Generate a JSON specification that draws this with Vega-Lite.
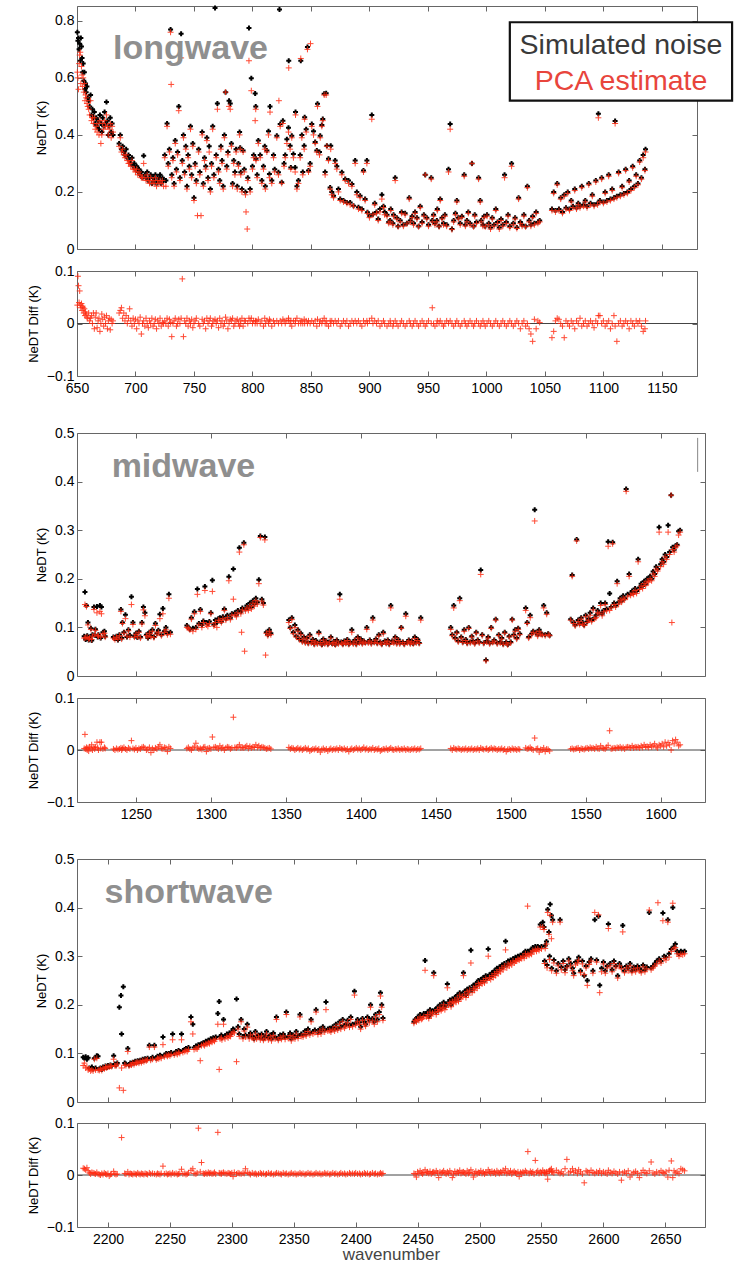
{
"$schema":"https://vega.github.io/schema/vega-lite/v6.json",
"background":"white",
"padding":{"left":26,"top":4,"right":5,"bottom":0},
"config":{"font":"Liberation Sans","view":{"stroke":"#666","strokeWidth":1},
"axis":{"grid":false,"domain":false,"tickSize":-5,"tickColor":"#666","tickWidth":1,"labelFont":"Liberation Sans","labelFontSize":14,"labelColor":"#000","labelPadding":8,"labelFlush":false,"labelOverlap":false,"titleFont":"Liberation Sans","titleFontSize":13,"titleFontWeight":"normal","titleColor":"#000","titlePadding":6}},
"datasets":{
"lw":[
{"w":650.3,"s":0.76,"p":0.62,"d":0.035},{"w":650.8,"s":0.73,"p":0.6,"d":0.09},{"w":651.3,"s":0.74,"p":0.56,"d":0.072},{"w":651.8,"s":0.7,"p":0.65,"d":0.04},{"w":652.3,"s":0.72,"p":0.68,"d":0.062},{"w":652.8,"s":0.66,"p":0.69,"d":0.035},{"w":653.3,"s":0.74,"p":0.58,"d":0.03},{"w":653.8,"s":0.71,"p":0.64,"d":0.038},{"w":654.3,"s":0.67,"p":0.61,"d":0.025},{"w":654.8,"s":0.62,"p":0.57,"d":0.033},{"w":655.3,"s":0.65,"p":0.6,"d":0.03},{"w":655.8,"s":0.59,"p":0.55,"d":0.02},{"w":656.3,"s":0.62,"p":0.58,"d":0.028},{"w":656.8,"s":0.56,"p":0.52,"d":0.015},{"w":657.3,"s":0.58,"p":0.54,"d":0.022},{"w":657.8,"s":0.55,"p":0.53,"d":0.018},{"w":658.5,"s":0.57,"p":0.51,"d":0.012},{"w":659.2,"s":0.53,"p":0.5,"d":0.01},{"w":660,"s":0.52,"p":0.49,"d":0.02},{"w":660.8,"s":0.5,"p":0.47,"d":0.005},{"w":661.6,"s":0.54,"p":0.52,"d":0.01},{"w":662.4,"s":0.47,"p":0.45,"d":0.015},{"w":663.2,"s":0.49,"p":0.46,"d":0},{"w":664,"s":0.46,"p":0.44,"d":0.02},{"w":664.8,"s":0.48,"p":0.46,"d":-0.01},{"w":665.6,"s":0.44,"p":0.42,"d":0.012},{"w":666.4,"s":0.46,"p":0.43,"d":0.02},{"w":667.2,"s":0.43,"p":0.41,"d":-0.008},{"w":668,"s":0.45,"p":0.44,"d":0.005},{"w":668.8,"s":0.42,"p":0.4,"d":0.01},{"w":669.6,"s":0.47,"p":0.45,"d":-0.015},{"w":670.4,"s":0.44,"p":0.37,"d":0},{"w":671.2,"s":0.41,"p":0.4,"d":0.018},{"w":672,"s":0.46,"p":0.44,"d":0.008},{"w":672.8,"s":0.43,"p":0.42,"d":-0.005},{"w":673.6,"s":0.48,"p":0.45,"d":0.012},{"w":674.4,"s":0.44,"p":0.43,"d":0},{"w":675.2,"s":0.515,"p":0.47,"d":0.015},{"w":676,"s":0.45,"p":0.43,"d":-0.01},{"w":676.8,"s":0.4,"p":0.4,"d":0.005},{"w":677.6,"s":0.43,"p":0.42,"d":0.01},{"w":678.4,"s":0.46,"p":0.44,"d":-0.012},{"w":679.2,"s":0.41,"p":0.39,"d":0.008},{"w":680,"s":0.44,"p":0.43,"d":0},{"w":680.8,"s":0.4,"p":0.41,"d":0.005},
{"w":686,"s":0.37,"p":0.36,"d":0.02},{"w":687,"s":0.4,"p":0.39,"d":0.025},{"w":688,"s":0.35,"p":0.34,"d":0.03},{"w":689,"s":0.36,"p":0.35,"d":0.01},{"w":690,"s":0.34,"p":0.33,"d":0.02},{"w":691,"s":0.33,"p":0.32,"d":0.005},{"w":692,"s":0.35,"p":0.33,"d":0.015},{"w":693,"s":0.32,"p":0.31,"d":0},{"w":694,"s":0.33,"p":0.3,"d":0.01},{"w":695,"s":0.31,"p":0.3,"d":0.028},{"w":696,"s":0.3,"p":0.29,"d":0.005},{"w":697,"s":0.32,"p":0.31,"d":-0.005},{"w":698,"s":0.29,"p":0.28,"d":0.01},{"w":699,"s":0.3,"p":0.28,"d":0},{"w":700,"s":0.28,"p":0.27,"d":0.008},{"w":701,"s":0.29,"p":0.28,"d":-0.01},{"w":702,"s":0.27,"p":0.26,"d":0.005},{"w":703,"s":0.28,"p":0.27,"d":0},{"w":704,"s":0.26,"p":0.26,"d":0.012},{"w":705,"s":0.27,"p":0.25,"d":-0.02},{"w":706,"s":0.25,"p":0.25,"d":0},{"w":707,"s":0.327,"p":0.3,"d":0.005},{"w":708,"s":0.26,"p":0.25,"d":-0.005},{"w":709,"s":0.25,"p":0.24,"d":0.01},{"w":710,"s":0.27,"p":0.26,"d":0},{"w":711,"s":0.24,"p":0.24,"d":-0.008},{"w":712,"s":0.25,"p":0.23,"d":0.005},{"w":713,"s":0.26,"p":0.25,"d":0},{"w":714,"s":0.23,"p":0.23,"d":0.01},{"w":715,"s":0.25,"p":0.24,"d":-0.005},{"w":716,"s":0.24,"p":0.23,"d":0},{"w":717,"s":0.26,"p":0.25,"d":0.008},{"w":718,"s":0.23,"p":0.22,"d":-0.01},{"w":719,"s":0.25,"p":0.24,"d":0.005},{"w":720,"s":0.24,"p":0.23,"d":0},{"w":721,"s":0.26,"p":0.24,"d":0.01},{"w":722,"s":0.23,"p":0.23,"d":-0.005},{"w":723,"s":0.25,"p":0.24,"d":0.002},{"w":724,"s":0.24,"p":0.22,"d":0},
{"w":725,"s":0.33,"p":0.32,"d":0.005},{"w":726,"s":0.24,"p":0.22,"d":0},{"w":727,"s":0.44,"p":0.43,"d":0.01},{"w":728,"s":0.3,"p":0.29,"d":-0.005},{"w":729,"s":0.35,"p":0.34,"d":0.008},{"w":730,"s":0.77,"p":0.76,"d":0.002},{"w":730.5,"s":null,"p":0.577,"d":null},{"w":731,"s":0.26,"p":0.25,"d":-0.025},{"w":732,"s":0.32,"p":0.31,"d":0},{"w":733,"s":0.23,"p":0.22,"d":0.005},{"w":734,"s":0.38,"p":0.37,"d":0.01},{"w":735,"s":0.28,"p":0.27,"d":-0.005},{"w":736,"s":0.34,"p":0.33,"d":0},{"w":737,"s":0.5,"p":0.485,"d":0.008},{"w":738,"s":0.25,"p":0.24,"d":0},{"w":739,"s":0.755,"p":0.67,"d":0.01},{"w":740,"s":0.31,"p":0.3,"d":0.085},{"w":741,"s":0.4,"p":0.39,"d":-0.025},{"w":742,"s":0.27,"p":0.26,"d":0.005},{"w":743,"s":0.36,"p":0.35,"d":0},{"w":744,"s":0.22,"p":0.21,"d":0.01},{"w":745,"s":0.33,"p":0.32,"d":-0.005},{"w":746,"s":0.29,"p":0.28,"d":0.005},{"w":747,"s":0.43,"p":0.42,"d":0},{"w":748,"s":0.26,"p":0.25,"d":0.008},{"w":749,"s":0.37,"p":0.36,"d":-0.008},{"w":750,"s":0.18,"p":0.17,"d":0},{"w":751,"s":0.3,"p":0.29,"d":0.005},{"w":752,"s":0.24,"p":0.23,"d":0.01},{"w":753,"s":null,"p":0.117,"d":null},{"w":754,"s":0.35,"p":0.34,"d":0},{"w":755,"s":0.27,"p":0.26,"d":-0.005},{"w":756,"s":null,"p":0.117,"d":null},{"w":757,"s":0.41,"p":0.4,"d":0.008},{"w":758,"s":0.23,"p":0.22,"d":0},{"w":759,"s":0.32,"p":0.31,"d":0.005},{"w":760,"s":0.29,"p":0.28,"d":-0.01},{"w":761,"s":0.39,"p":0.38,"d":0.01},{"w":762,"s":0.25,"p":0.24,"d":0},{"w":763,"s":0.36,"p":0.34,"d":0.005},{"w":764,"s":0.21,"p":0.2,"d":0.01},{"w":765,"s":0.3,"p":0.29,"d":-0.005},{"w":766,"s":0.43,"p":0.42,"d":0},{"w":767,"s":0.26,"p":0.25,"d":0.005},{"w":768,"s":0.845,"p":null,"d":0.008},{"w":769,"s":0.33,"p":0.32,"d":0},{"w":770,"s":0.51,"p":0.49,"d":0.005},{"w":771,"s":0.28,"p":0.27,"d":-0.008},{"w":772,"s":0.24,"p":0.23,"d":0.01},{"w":773,"s":0.36,"p":0.35,"d":0},{"w":774,"s":0.31,"p":0.3,"d":0.005},{"w":775,"s":0.22,"p":0.21,"d":-0.005},{"w":776,"s":0.4,"p":0.39,"d":0},{"w":777,"s":0.55,"p":0.55,"d":0.012},{"w":778,"s":0.29,"p":0.28,"d":0.005},{"w":779,"s":0.34,"p":0.33,"d":-0.01},{"w":780,"s":0.52,"p":0.5,"d":0},{"w":781,"s":0.51,"p":0.49,"d":0.008},{"w":782,"s":0.37,"p":0.36,"d":0.005},{"w":783,"s":0.23,"p":0.22,"d":0.01},{"w":784,"s":0.31,"p":0.3,"d":-0.005},{"w":785,"s":0.27,"p":0.26,"d":0},{"w":786,"s":0.35,"p":0.34,"d":0.005},{"w":787,"s":0.22,"p":0.21,"d":0.008},{"w":788,"s":0.3,"p":0.29,"d":0},{"w":789,"s":0.41,"p":0.4,"d":-0.005},{"w":789.5,"s":0.355,"p":0.35,"d":0.005},{"w":790,"s":0.269,"p":0.26,"d":0},{"w":791,"s":0.21,"p":0.2,"d":0.01},{"w":792,"s":0.345,"p":0.34,"d":-0.005},{"w":793,"s":0.28,"p":0.27,"d":0.005},{"w":794,"s":0.2,"p":0.19,"d":0.005},{"w":794.5,"s":null,"p":0.13,"d":null},{"w":795.5,"s":null,"p":0.07,"d":null},{"w":796,"s":0.25,"p":0.24,"d":0},{"w":797,"s":0.775,"p":0.66,"d":0.01},{"w":798,"s":0.21,"p":0.2,"d":0.005},{"w":799,"s":0.599,"p":0.555,"d":0.01},{"w":800,"s":0.29,"p":0.28,"d":0},{"w":801,"s":0.33,"p":0.32,"d":0.005},{"w":802.3,"s":0.545,"p":0.45,"d":0},{"w":802.8,"s":0.5,"p":0.49,"d":0.005},{"w":803,"s":0.316,"p":0.31,"d":0.005},{"w":804,"s":0.26,"p":0.25,"d":0},{"w":805,"s":0.38,"p":0.37,"d":0.008},{"w":806.6,"s":0.33,"p":0.32,"d":0},{"w":808,"s":0.24,"p":0.23,"d":0.005},{"w":809.4,"s":0.29,"p":0.28,"d":-0.005},{"w":810.5,"s":0.36,"p":0.35,"d":0.01},{"w":811,"s":0.22,"p":0.21,"d":0},{"w":812.3,"s":0.345,"p":0.34,"d":0.005},{"w":813.7,"s":0.413,"p":0.4,"d":0},{"w":814.5,"s":0.263,"p":0.25,"d":0.008},{"w":815,"s":0.5,"p":0.48,"d":0.005},{"w":816.5,"s":0.24,"p":0.23,"d":-0.005},{"w":818,"s":0.33,"p":0.32,"d":0.005},{"w":819,"s":0.28,"p":0.27,"d":0},{"w":820.8,"s":0.397,"p":0.39,"d":0.005},{"w":822.2,"s":0.269,"p":0.26,"d":0},{"w":822.6,"s":null,"p":0.52,"d":null},{"w":823.1,"s":0.84,"p":null,"d":null},{"w":823.7,"s":0.438,"p":0.43,"d":0.005},{"w":825,"s":0.234,"p":0.23,"d":0},{"w":826,"s":0.45,"p":0.44,"d":0.008},{"w":827,"s":0.3,"p":0.29,"d":0.005},{"w":828,"s":0.33,"p":0.32,"d":0},{"w":829.4,"s":0.385,"p":0.37,"d":0.005},{"w":830.8,"s":0.425,"p":0.41,"d":0.01},{"w":831,"s":0.66,"p":0.635,"d":0.006},{"w":832.2,"s":0.362,"p":0.35,"d":0},{"w":832.8,"s":0.286,"p":0.28,"d":0.005},{"w":833.6,"s":0.397,"p":0.39,"d":-0.005},{"w":835,"s":0.333,"p":0.32,"d":0.005},{"w":836.5,"s":0.286,"p":0.27,"d":0},{"w":836.8,"s":0.48,"p":0.47,"d":0.005},{"w":838,"s":0.22,"p":0.21,"d":0.01},{"w":839.3,"s":0.24,"p":0.23,"d":0},{"w":840.8,"s":0.33,"p":0.32,"d":0.005},{"w":841.3,"s":0.66,"p":0.668,"d":0},{"w":842.2,"s":0.4,"p":0.39,"d":0.005},{"w":843,"s":0.27,"p":0.26,"d":0},{"w":844.2,"s":0.362,"p":0.35,"d":0.008},{"w":844.6,"s":0.462,"p":0.455,"d":0},{"w":845.9,"s":0.42,"p":0.41,"d":0.005},{"w":847,"s":0.708,"p":0.7,"d":0},{"w":847.9,"s":0.275,"p":0.27,"d":0.005},{"w":849.3,"s":0.3,"p":0.29,"d":0},{"w":849.6,"s":null,"p":0.72,"d":null},{"w":850.7,"s":0.438,"p":0.43,"d":0.005},{"w":852.2,"s":0.413,"p":0.4,"d":0},{"w":853.6,"s":0.375,"p":0.37,"d":0.005},{"w":855,"s":0.345,"p":0.34,"d":-0.005},{"w":855.6,"s":0.509,"p":0.5,"d":0.008},{"w":857.3,"s":0.34,"p":0.33,"d":0},{"w":857.9,"s":0.397,"p":0.39,"d":0.005},{"w":859.3,"s":0.435,"p":0.43,"d":0},{"w":860.1,"s":0.456,"p":0.45,"d":0.005},{"w":861.3,"s":0.544,"p":0.54,"d":0.01},{"w":862.1,"s":0.27,"p":0.26,"d":0},{"w":863,"s":0.546,"p":0.54,"d":0.005},{"w":863.6,"s":0.362,"p":0.36,"d":0},{"w":865,"s":0.316,"p":0.31,"d":-0.005},{"w":866.4,"s":0.216,"p":0.21,"d":0.005},{"w":866.9,"s":0.362,"p":0.35,"d":0},{"w":867.8,"s":0.2,"p":0.19,"d":0.005},{"w":869.3,"s":0.187,"p":0.18,"d":0},{"w":870.7,"s":0.31,"p":0.3,"d":0.005},{"w":872.1,"s":0.29,"p":0.28,"d":0},{"w":873.5,"s":0.21,"p":0.2,"d":0.005},{"w":875,"s":0.175,"p":0.17,"d":-0.005},{"w":876.4,"s":0.269,"p":0.26,"d":0},{"w":877.8,"s":0.17,"p":0.165,"d":0.005},{"w":879.3,"s":0.245,"p":0.24,"d":0},{"w":880.7,"s":0.163,"p":0.16,"d":0.005},{"w":882.1,"s":0.24,"p":0.23,"d":-0.005},{"w":883.5,"s":0.163,"p":0.155,"d":0},{"w":885,"s":0.228,"p":0.22,"d":0.005},{"w":886.4,"s":0.152,"p":0.15,"d":0},{"w":887.8,"s":0.31,"p":0.3,"d":0.005},{"w":889.2,"s":0.2,"p":0.19,"d":0},{"w":890.6,"s":0.146,"p":0.14,"d":0.005},{"w":892,"s":0.187,"p":0.18,"d":0},{"w":893.5,"s":0.14,"p":0.135,"d":-0.005},{"w":894.9,"s":0.275,"p":0.27,"d":0.005},{"w":896.3,"s":0.175,"p":0.17,"d":0},{"w":897.8,"s":0.31,"p":0.3,"d":0.005},{"w":898.3,"s":0.129,"p":0.125,"d":0},{"w":900,"s":0.117,"p":0.11,"d":0.005},{"w":902,"s":0.47,"p":0.455,"d":0.01},{"w":903,"s":0.122,"p":0.12,"d":0},{"w":904.5,"s":0.16,"p":0.155,"d":0.005},
{"w":906,"s":0.13,"p":0.125,"d":0},{"w":907.5,"s":0.105,"p":0.1,"d":0.005},{"w":909,"s":0.14,"p":0.13,"d":-0.005},{"w":910.6,"s":0.19,"p":0.175,"d":0},{"w":912,"s":0.15,"p":0.145,"d":0.005},{"w":913,"s":0.13,"p":0.12,"d":0},{"w":915,"s":0.12,"p":0.115,"d":-0.005},{"w":916.5,"s":0.095,"p":0.09,"d":0},{"w":917.7,"s":0.1,"p":0.095,"d":0.005},{"w":918.2,"s":0.14,"p":0.135,"d":0},{"w":920,"s":0.09,"p":0.085,"d":-0.005},{"w":920.6,"s":0.12,"p":0.115,"d":0},{"w":922,"s":0.25,"p":0.24,"d":0.005},{"w":923.4,"s":0.11,"p":0.105,"d":0},{"w":924.5,"s":0.08,"p":0.078,"d":-0.005},{"w":926.3,"s":0.1,"p":0.095,"d":0},{"w":927.5,"s":0.13,"p":0.125,"d":0.005},{"w":929,"s":0.085,"p":0.08,"d":0},{"w":930.5,"s":0.125,"p":0.12,"d":-0.005},{"w":932,"s":0.09,"p":0.088,"d":0},{"w":934,"s":0.18,"p":0.175,"d":0.005},{"w":935,"s":0.1,"p":0.095,"d":0},{"w":936.5,"s":0.115,"p":0.11,"d":-0.005},{"w":937.7,"s":0.09,"p":0.085,"d":0},{"w":939,"s":0.13,"p":0.125,"d":0.005},{"w":940.6,"s":0.11,"p":0.105,"d":0},{"w":942,"s":0.08,"p":0.078,"d":-0.005},{"w":943.4,"s":0.15,"p":0.145,"d":0},{"w":945,"s":0.095,"p":0.09,"d":0.005},{"w":946.5,"s":0.12,"p":0.115,"d":0},{"w":947.7,"s":0.26,"p":0.26,"d":-0.005},{"w":949,"s":0.11,"p":0.105,"d":0},{"w":950.5,"s":0.085,"p":0.08,"d":0.005},{"w":952.8,"s":0.25,"p":0.245,"d":0},{"w":953.7,"s":0.1,"p":0.095,"d":0.03},{"w":954.8,"s":0.12,"p":0.115,"d":0},{"w":956,"s":0.09,"p":0.085,"d":-0.005},{"w":957.6,"s":0.1,"p":0.095,"d":0},{"w":958,"s":0.14,"p":0.135,"d":0.005},{"w":959.5,"s":0.08,"p":0.078,"d":0},{"w":960.5,"s":0.175,"p":0.17,"d":0.005},{"w":962,"s":0.11,"p":0.105,"d":0},{"w":963.3,"s":0.09,"p":0.085,"d":-0.005},{"w":964.5,"s":0.12,"p":0.115,"d":0},{"w":966,"s":0.085,"p":0.08,"d":0.005},{"w":967.6,"s":0.28,"p":0.27,"d":0},{"w":969,"s":0.438,"p":0.42,"d":0.005},{"w":970.5,"s":0.07,"p":0.068,"d":0},{"w":972,"s":0.1,"p":0.095,"d":-0.005},{"w":973.5,"s":0.125,"p":0.12,"d":0},{"w":974.7,"s":0.17,"p":0.165,"d":0.005},{"w":976,"s":0.11,"p":0.105,"d":0},{"w":977.6,"s":0.09,"p":0.085,"d":-0.005},{"w":979,"s":0.115,"p":0.11,"d":0},{"w":981,"s":0.26,"p":0.255,"d":0.005},{"w":982,"s":0.085,"p":0.08,"d":0},{"w":983.3,"s":0.1,"p":0.095,"d":-0.005},{"w":984.5,"s":0.13,"p":0.125,"d":0},{"w":986,"s":0.09,"p":0.085,"d":0.005},{"w":987.6,"s":0.3,"p":0.3,"d":0},{"w":989,"s":0.08,"p":0.078,"d":-0.005},{"w":990,"s":0.12,"p":0.115,"d":0},{"w":991.5,"s":0.095,"p":0.09,"d":0.005},{"w":993.3,"s":0.25,"p":0.245,"d":0},{"w":994.7,"s":0.17,"p":0.165,"d":-0.005},{"w":995.5,"s":0.1,"p":0.095,"d":0},{"w":997,"s":0.085,"p":0.08,"d":0.005},{"w":998,"s":0.115,"p":0.11,"d":0},{"w":999,"s":0.08,"p":0.078,"d":-0.005},
{"w":1000.5,"s":0.12,"p":0.115,"d":0},{"w":1002,"s":0.09,"p":0.085,"d":0.005},{"w":1003.5,"s":0.075,"p":0.07,"d":0},{"w":1005,"s":0.11,"p":0.105,"d":-0.005},{"w":1006.5,"s":0.085,"p":0.08,"d":0},{"w":1008,"s":0.14,"p":0.135,"d":0.005},{"w":1009.5,"s":0.095,"p":0.09,"d":0},{"w":1011,"s":0.075,"p":0.07,"d":-0.005},{"w":1012.5,"s":0.105,"p":0.1,"d":0},{"w":1014,"s":0.085,"p":0.08,"d":0.005},{"w":1015.5,"s":0.26,"p":0.25,"d":0},{"w":1017,"s":0.095,"p":0.09,"d":-0.005},{"w":1018.5,"s":0.12,"p":0.115,"d":0},{"w":1020,"s":0.08,"p":0.075,"d":0.005},{"w":1021.5,"s":0.3,"p":0.29,"d":0},{"w":1023,"s":0.09,"p":0.085,"d":-0.005},{"w":1024.5,"s":0.11,"p":0.105,"d":0},{"w":1026,"s":0.075,"p":0.072,"d":0.005},{"w":1027.5,"s":0.18,"p":0.175,"d":0},{"w":1029,"s":0.095,"p":0.09,"d":-0.01},{"w":1030.5,"s":0.085,"p":0.08,"d":0},{"w":1032,"s":0.12,"p":0.115,"d":0.005},{"w":1033.5,"s":0.08,"p":0.078,"d":-0.005},{"w":1035,"s":0.22,"p":0.215,"d":0},{"w":1036.5,"s":0.1,"p":0.095,"d":-0.01},{"w":1038,"s":0.085,"p":0.08,"d":-0.02},{"w":1039.5,"s":0.115,"p":0.11,"d":-0.034},{"w":1041,"s":0.09,"p":0.085,"d":0.008},{"w":1042.5,"s":0.13,"p":0.125,"d":-0.01},{"w":1044,"s":0.095,"p":0.09,"d":0.005},{"w":1045.5,"s":0.1,"p":0.095,"d":0.002},
{"w":1056,"s":0.14,"p":0.135,"d":-0.027},{"w":1057.5,"s":0.2,"p":0.195,"d":-0.015},{"w":1059,"s":0.135,"p":0.13,"d":0.005},{"w":1060.5,"s":0.23,"p":0.225,"d":0.01},{"w":1062,"s":0.14,"p":0.135,"d":0.008},{"w":1063.5,"s":0.18,"p":0.175,"d":0},{"w":1065,"s":0.13,"p":0.125,"d":-0.005},{"w":1066.5,"s":0.19,"p":0.185,"d":-0.027},{"w":1068,"s":0.145,"p":0.14,"d":0.005},{"w":1069.5,"s":0.2,"p":0.195,"d":0},{"w":1071,"s":0.14,"p":0.135,"d":-0.005},{"w":1072.5,"s":0.17,"p":0.165,"d":0.005},{"w":1074,"s":0.15,"p":0.145,"d":0},{"w":1075.5,"s":0.21,"p":0.205,"d":-0.01},{"w":1077,"s":0.145,"p":0.14,"d":0.005},{"w":1078.5,"s":0.16,"p":0.155,"d":0},{"w":1080,"s":0.15,"p":0.145,"d":0.01},{"w":1081.5,"s":0.22,"p":0.215,"d":-0.005},{"w":1083,"s":0.155,"p":0.15,"d":0},{"w":1084.5,"s":0.17,"p":0.165,"d":0.005},{"w":1086,"s":0.15,"p":0.145,"d":-0.005},{"w":1087.5,"s":0.23,"p":0.225,"d":0},{"w":1089,"s":0.16,"p":0.155,"d":0.005},{"w":1090.5,"s":0.19,"p":0.185,"d":0},{"w":1092,"s":0.155,"p":0.15,"d":-0.008},{"w":1093.5,"s":0.24,"p":0.235,"d":0.005},{"w":1095,"s":0.16,"p":0.155,"d":0},{"w":1095.7,"s":0.474,"p":0.46,"d":0.015},{"w":1097,"s":0.17,"p":0.165,"d":0.015},{"w":1098.5,"s":0.25,"p":0.245,"d":0},{"w":1100,"s":0.165,"p":0.16,"d":0.005},{"w":1101.5,"s":0.2,"p":0.195,"d":-0.005},{"w":1103,"s":0.17,"p":0.165,"d":0},{"w":1104.5,"s":0.26,"p":0.255,"d":0.005},{"w":1106,"s":0.175,"p":0.17,"d":-0.01},{"w":1107.5,"s":0.21,"p":0.205,"d":0},{"w":1109,"s":0.18,"p":0.175,"d":0.015},{"w":1110,"s":0.449,"p":0.44,"d":-0.005},{"w":1111.5,"s":0.185,"p":0.18,"d":-0.034},{"w":1113,"s":0.27,"p":0.265,"d":0},{"w":1114.5,"s":0.19,"p":0.185,"d":0.005},{"w":1116,"s":0.22,"p":0.215,"d":-0.005},{"w":1117.5,"s":0.195,"p":0.19,"d":0},{"w":1119,"s":0.28,"p":0.275,"d":0.005},{"w":1120.5,"s":0.2,"p":0.195,"d":0},{"w":1122,"s":0.24,"p":0.235,"d":-0.01},{"w":1123.5,"s":0.21,"p":0.205,"d":0.005},{"w":1125,"s":0.29,"p":0.285,"d":0},{"w":1126.5,"s":0.22,"p":0.215,"d":-0.005},{"w":1128,"s":0.26,"p":0.255,"d":0.005},{"w":1129.5,"s":0.23,"p":0.225,"d":0},{"w":1131,"s":0.31,"p":0.305,"d":0.005},{"w":1132.5,"s":0.25,"p":0.245,"d":-0.005},{"w":1134,"s":0.33,"p":0.32,"d":-0.015},{"w":1135.5,"s":0.28,"p":0.275,"d":-0.01},{"w":1136,"s":0.35,"p":0.34,"d":0.005}
],
"mw":[
{"w":1215.5,"s":0.082,"p":0.078,"d":0.003},{"w":1216,"s":0.173,"p":0.147,"d":0.03},{"w":1216.5,"s":0.075,"p":0.079,"d":0.002},{"w":1217,"s":0.145,"p":0.143,"d":0.005},{"w":1217.5,"s":0.083,"p":0.08,"d":0},{"w":1218,"s":0.11,"p":0.105,"d":0.004},{"w":1218.5,"s":0.074,"p":0.076,"d":-0.002},{"w":1219,"s":0.08,"p":0.078,"d":0.006},{"w":1220,"s":0.098,"p":0.096,"d":0.003},{"w":1220.5,"s":0.073,"p":0.075,"d":0.01},{"w":1221,"s":0.085,"p":0.082,"d":0},{"w":1222,"s":0.142,"p":0.137,"d":0.005},{"w":1222.5,"s":0.084,"p":0.085,"d":0.002},{"w":1223,"s":0.096,"p":0.094,"d":0.006},{"w":1224,"s":0.143,"p":0.13,"d":0.015},{"w":1224.5,"s":0.08,"p":0.083,"d":0.004},{"w":1225,"s":0.085,"p":0.082,"d":0},{"w":1226,"s":0.145,"p":0.133,"d":0.015},{"w":1226.5,"s":0.078,"p":0.08,"d":0.003},{"w":1227,"s":0.142,"p":0.128,"d":0.015},{"w":1228,"s":0.09,"p":0.087,"d":0.002},{"w":1229,"s":0.092,"p":0.088,"d":0.005},{"w":1229.5,"s":0.082,"p":0.08,"d":0.003},
{"w":1235,"s":0.08,"p":0.078,"d":0.002},{"w":1236,"s":0.077,"p":0.075,"d":0},{"w":1237,"s":0.082,"p":0.08,"d":0.003},{"w":1238,"s":0.074,"p":0.076,"d":0.001},{"w":1239,"s":0.085,"p":0.083,"d":0.002},{"w":1240,"s":0.137,"p":0.133,"d":0.004},{"w":1240.5,"s":0.078,"p":0.076,"d":0},{"w":1241,"s":0.11,"p":0.108,"d":0.003},{"w":1242,"s":0.09,"p":0.088,"d":0.005},{"w":1243,"s":0.126,"p":0.118,"d":0.002},{"w":1244,"s":0.08,"p":0.082,"d":0},{"w":1245,"s":0.095,"p":0.093,"d":0.004},{"w":1246,"s":0.084,"p":0.08,"d":0.002},{"w":1247,"s":0.163,"p":0.147,"d":0.018},{"w":1248,"s":0.11,"p":0.106,"d":0.003},{"w":1249,"s":0.082,"p":0.08,"d":0.001},{"w":1250,"s":0.088,"p":0.086,"d":0.004},{"w":1251,"s":0.079,"p":0.081,"d":0},{"w":1252,"s":0.092,"p":0.09,"d":0.003},{"w":1253,"s":0.08,"p":0.078,"d":0.002},{"w":1254,"s":0.11,"p":0.107,"d":0.005},{"w":1255,"s":0.142,"p":0.136,"d":0.006},{"w":1256,"s":0.13,"p":0.124,"d":0.004},{"w":1257,"s":0.085,"p":0.083,"d":0},{"w":1258,"s":0.078,"p":0.08,"d":0.002},{"w":1259,"s":0.09,"p":0.088,"d":0.005},{"w":1260,"s":0.083,"p":0.081,"d":-0.005},{"w":1261,"s":0.095,"p":0.092,"d":0.003},{"w":1262,"s":0.08,"p":0.079,"d":0},{"w":1263,"s":0.108,"p":0.104,"d":0.004},{"w":1264,"s":0.088,"p":0.086,"d":0.002},{"w":1265,"s":0.094,"p":0.09,"d":0.006},{"w":1266,"s":0.127,"p":0.118,"d":0.01},{"w":1267,"s":0.085,"p":0.083,"d":0.003},{"w":1268,"s":0.139,"p":0.128,"d":0.002},{"w":1269,"s":0.092,"p":0.09,"d":0.005},{"w":1270,"s":0.1,"p":0.095,"d":0.004},{"w":1271,"s":0.088,"p":0.085,"d":-0.003},{"w":1272,"s":0.168,"p":0.16,"d":0.006},{"w":1273,"s":0.09,"p":0.086,"d":0.003},
{"w":1284,"s":0.104,"p":0.1,"d":0.003},{"w":1285,"s":0.1,"p":0.098,"d":0.005},{"w":1286,"s":0.096,"p":0.095,"d":0.002},{"w":1287,"s":0.12,"p":0.117,"d":0},{"w":1288,"s":0.098,"p":0.092,"d":0.004},{"w":1289,"s":0.132,"p":0.128,"d":0.006},{"w":1290,"s":0.1,"p":0.096,"d":0.013},{"w":1291,"s":0.179,"p":0.168,"d":0.004},{"w":1292,"s":0.108,"p":0.105,"d":0.002},{"w":1293,"s":0.137,"p":0.133,"d":0.003},{"w":1294,"s":0.105,"p":0.1,"d":0.001},{"w":1295,"s":0.113,"p":0.11,"d":0.005},{"w":1296,"s":0.184,"p":0.176,"d":0.006},{"w":1297,"s":0.11,"p":0.105,"d":-0.003},{"w":1298,"s":0.108,"p":0.102,"d":0.003},{"w":1299,"s":0.112,"p":0.108,"d":0.004},{"w":1300,"s":0.13,"p":0.128,"d":0.002},{"w":1301,"s":0.197,"p":0.174,"d":0.025},{"w":1302,"s":0.106,"p":0.103,"d":0.005},{"w":1303,"s":0.115,"p":0.11,"d":0.006},{"w":1304,"s":0.11,"p":0.1,"d":0.004},{"w":1305,"s":0.118,"p":0.115,"d":0.002},{"w":1306,"s":0.12,"p":0.114,"d":0.008},{"w":1307,"s":0.112,"p":0.11,"d":0.003},{"w":1308,"s":0.122,"p":0.118,"d":0.005},{"w":1309,"s":0.138,"p":0.135,"d":0},{"w":1310,"s":0.118,"p":0.115,"d":0.004},{"w":1311,"s":0.125,"p":0.12,"d":0.006},{"w":1312,"s":0.204,"p":0.196,"d":0.005},{"w":1313,"s":0.12,"p":0.116,"d":0.002},{"w":1314,"s":0.128,"p":0.125,"d":0.004},{"w":1315,"s":0.22,"p":0.158,"d":0.063},{"w":1316,"s":0.13,"p":0.126,"d":0.005},{"w":1317,"s":0.126,"p":0.122,"d":0.004},{"w":1318,"s":0.135,"p":0.13,"d":0.006},{"w":1319,"s":0.264,"p":0.255,"d":0.01},{"w":1320,"s":0.132,"p":0.128,"d":0.004},{"w":1320.5,"s":null,"p":0.09,"d":null},{"w":1321,"s":0.14,"p":0.136,"d":0.005},{"w":1322,"s":0.274,"p":0.27,"d":0.004},{"w":1322.5,"s":null,"p":0.051,"d":null},{"w":1323,"s":0.138,"p":0.134,"d":0.006},{"w":1324,"s":0.145,"p":0.14,"d":0.008},{"w":1325,"s":0.14,"p":0.135,"d":0.003},{"w":1326,"s":0.15,"p":0.144,"d":0.007},{"w":1327,"s":0.142,"p":0.138,"d":0.004},{"w":1328,"s":0.155,"p":0.15,"d":0.006},{"w":1329,"s":0.148,"p":0.144,"d":0.005},{"w":1330,"s":0.16,"p":0.155,"d":0.01},{"w":1331,"s":0.152,"p":0.148,"d":0.005},{"w":1332,"s":0.198,"p":0.19,"d":0.008},{"w":1333,"s":0.288,"p":0.285,"d":0.004},{"w":1334,"s":0.158,"p":0.154,"d":0.006},{"w":1335,"s":0.15,"p":0.146,"d":0.005},{"w":1336,"s":0.286,"p":0.28,"d":0.004},{"w":1336.5,"s":null,"p":0.043,"d":null},{"w":1337,"s":0.09,"p":0.088,"d":0.002},{"w":1338,"s":0.085,"p":0.083,"d":0.003},{"w":1339,"s":0.095,"p":0.092,"d":0.004},{"w":1340,"s":0.088,"p":0.085,"d":0.002},
{"w":1352,"s":0.115,"p":0.11,"d":0.005},{"w":1353,"s":0.1,"p":0.098,"d":0.002},{"w":1354,"s":0.12,"p":0.116,"d":0.004},{"w":1355,"s":0.09,"p":0.087,"d":0.003},{"w":1356,"s":0.105,"p":0.1,"d":0},{"w":1357,"s":0.082,"p":0.08,"d":0.002},{"w":1358,"s":0.095,"p":0.092,"d":0.004},{"w":1359,"s":0.076,"p":0.075,"d":0.001},{"w":1360,"s":0.088,"p":0.085,"d":0.003},{"w":1361,"s":0.072,"p":0.07,"d":0},{"w":1362,"s":0.08,"p":0.078,"d":0.002},{"w":1363,"s":0.07,"p":0.068,"d":0.004},{"w":1364,"s":0.078,"p":0.076,"d":0.001},{"w":1365,"s":0.068,"p":0.067,"d":0.003},{"w":1366,"s":0.085,"p":0.082,"d":-0.002},{"w":1367,"s":0.07,"p":0.068,"d":0},{"w":1368,"s":0.075,"p":0.073,"d":0.002},{"w":1369,"s":0.066,"p":0.065,"d":0.001},{"w":1370,"s":0.073,"p":0.07,"d":0.003},{"w":1371,"s":0.068,"p":0.066,"d":0},{"w":1372,"s":0.09,"p":0.087,"d":0.002},{"w":1373,"s":0.07,"p":0.069,"d":-0.004},{"w":1374,"s":0.065,"p":0.064,"d":0.001},{"w":1375,"s":0.076,"p":0.074,"d":0.003},{"w":1376,"s":0.068,"p":0.066,"d":0},{"w":1377,"s":0.072,"p":0.07,"d":0.002},{"w":1378,"s":0.066,"p":0.065,"d":-0.002},{"w":1379,"s":0.07,"p":0.068,"d":0.001},{"w":1380,"s":0.08,"p":0.078,"d":0.003},{"w":1381,"s":0.067,"p":0.066,"d":0},{"w":1382,"s":0.071,"p":0.069,"d":0.002},{"w":1383,"s":0.065,"p":0.064,"d":0.001},{"w":1384,"s":0.074,"p":0.072,"d":0.003},{"w":1385,"s":0.068,"p":0.066,"d":0},{"w":1386,"s":0.168,"p":0.158,"d":0.004},{"w":1387,"s":0.07,"p":0.068,"d":0.002},{"w":1388,"s":0.066,"p":0.065,"d":0.001},{"w":1389,"s":0.072,"p":0.07,"d":0.003},{"w":1390,"s":0.068,"p":0.067,"d":0},{"w":1391,"s":0.075,"p":0.073,"d":0.002},{"w":1392,"s":0.066,"p":0.065,"d":-0.003},{"w":1393,"s":0.07,"p":0.068,"d":0.001},{"w":1394,"s":0.095,"p":0.09,"d":0.003},{"w":1395,"s":0.068,"p":0.066,"d":0},{"w":1396,"s":0.074,"p":0.072,"d":0.002},{"w":1397,"s":0.066,"p":0.065,"d":0.004},{"w":1398,"s":0.08,"p":0.078,"d":0.001},{"w":1399,"s":0.07,"p":0.068,"d":0.003},{"w":1400,"s":0.076,"p":0.074,"d":0},{"w":1401,"s":0.068,"p":0.066,"d":0.002},{"w":1402,"s":0.072,"p":0.07,"d":0.005},{"w":1403,"s":0.069,"p":0.068,"d":0.001},{"w":1404,"s":0.1,"p":0.096,"d":0.003},{"w":1405,"s":0.07,"p":0.068,"d":0},{"w":1406,"s":0.074,"p":0.072,"d":0.002},{"w":1407,"s":0.068,"p":0.066,"d":0.001},{"w":1408,"s":0.12,"p":0.115,"d":0.004},{"w":1409,"s":0.07,"p":0.069,"d":0},{"w":1410,"s":0.076,"p":0.074,"d":0.002},{"w":1411,"s":0.068,"p":0.067,"d":0.001},{"w":1412,"s":0.085,"p":0.082,"d":0.003},{"w":1413,"s":0.07,"p":0.068,"d":-0.002},{"w":1414,"s":0.066,"p":0.065,"d":0},{"w":1415,"s":0.09,"p":0.087,"d":0.002},{"w":1416,"s":0.072,"p":0.07,"d":0.001},{"w":1417,"s":0.068,"p":0.067,"d":0.003},{"w":1418,"s":0.074,"p":0.072,"d":0},{"w":1419,"s":0.066,"p":0.065,"d":0.002},{"w":1420,"s":0.145,"p":0.14,"d":0.004},{"w":1421,"s":0.072,"p":0.07,"d":0.001},{"w":1422,"s":0.07,"p":0.068,"d":0},{"w":1423,"s":0.08,"p":0.078,"d":0.002},{"w":1424,"s":0.068,"p":0.066,"d":0.001},{"w":1425,"s":0.075,"p":0.073,"d":0.003},{"w":1426,"s":0.068,"p":0.066,"d":0},{"w":1427,"s":0.1,"p":0.098,"d":0.002},{"w":1428,"s":0.07,"p":0.069,"d":0.001},{"w":1429,"s":0.066,"p":0.065,"d":0.003},{"w":1430,"s":0.128,"p":0.123,"d":0},{"w":1431,"s":0.07,"p":0.068,"d":0.002},{"w":1432,"s":0.074,"p":0.072,"d":0.001},{"w":1433,"s":0.068,"p":0.066,"d":0},{"w":1434,"s":0.072,"p":0.07,"d":0.002},{"w":1435,"s":0.067,"p":0.066,"d":0.001},{"w":1436,"s":0.08,"p":0.077,"d":0.003},{"w":1437,"s":0.07,"p":0.068,"d":0},{"w":1438,"s":0.075,"p":0.073,"d":0.002},{"w":1439,"s":0.068,"p":0.067,"d":0.001},{"w":1440,"s":0.12,"p":0.115,"d":0.003},
{"w":1460,"s":0.1,"p":0.096,"d":0.003},{"w":1461,"s":0.085,"p":0.083,"d":0},{"w":1462,"s":0.145,"p":0.14,"d":0.004},{"w":1463,"s":0.078,"p":0.076,"d":0.002},{"w":1464,"s":0.09,"p":0.088,"d":0.001},{"w":1465,"s":0.072,"p":0.07,"d":0.003},{"w":1466,"s":0.16,"p":0.155,"d":0.002},{"w":1467,"s":0.08,"p":0.078,"d":0},{"w":1468,"s":0.07,"p":0.069,"d":0.002},{"w":1469,"s":0.095,"p":0.092,"d":0.001},{"w":1470,"s":0.075,"p":0.073,"d":0.003},{"w":1471,"s":0.068,"p":0.067,"d":0},{"w":1472,"s":0.1,"p":0.098,"d":0.002},{"w":1473,"s":0.07,"p":0.068,"d":0.001},{"w":1474,"s":0.082,"p":0.08,"d":0.003},{"w":1475,"s":0.072,"p":0.07,"d":0},{"w":1476,"s":0.068,"p":0.066,"d":0.002},{"w":1477,"s":0.09,"p":0.088,"d":0.001},{"w":1478,"s":0.074,"p":0.072,"d":0.003},{"w":1479,"s":0.07,"p":0.068,"d":0},{"w":1480,"s":0.218,"p":0.209,"d":0.004},{"w":1481,"s":0.085,"p":0.083,"d":0.002},{"w":1482,"s":0.068,"p":0.067,"d":0.001},{"w":1483.5,"s":0.033,"p":0.031,"d":0.002},{"w":1484,"s":0.072,"p":0.07,"d":0.003},{"w":1485,"s":0.08,"p":0.078,"d":0},{"w":1486,"s":0.068,"p":0.066,"d":0.002},{"w":1487,"s":0.1,"p":0.098,"d":0.004},{"w":1488,"s":0.07,"p":0.069,"d":0.001},{"w":1489,"s":0.074,"p":0.072,"d":0.003},{"w":1490,"s":0.117,"p":0.115,"d":0.002},{"w":1491,"s":0.068,"p":0.066,"d":0},{"w":1492,"s":0.085,"p":0.083,"d":0.002},{"w":1493,"s":0.07,"p":0.068,"d":0.001},{"w":1494,"s":0.078,"p":0.076,"d":0.003},{"w":1495,"s":0.066,"p":0.065,"d":0},{"w":1496,"s":0.09,"p":0.088,"d":0.002},{"w":1497,"s":0.07,"p":0.068,"d":-0.003},{"w":1498,"s":0.065,"p":0.064,"d":0.001},{"w":1499,"s":0.082,"p":0.08,"d":0.002},{"w":1500,"s":0.07,"p":0.068,"d":0},{"w":1501,"s":0.117,"p":0.115,"d":0.003},{"w":1502,"s":0.085,"p":0.083,"d":0.001},{"w":1503,"s":0.095,"p":0.092,"d":0.002},{"w":1504,"s":0.078,"p":0.076,"d":0},{"w":1505,"s":0.098,"p":0.096,"d":0.002},{"w":1506,"s":0.087,"p":0.085,"d":0.001},
{"w":1510,"s":0.14,"p":0.135,"d":0.004},{"w":1511,"s":0.11,"p":0.108,"d":0.002},{"w":1512,"s":0.08,"p":0.078,"d":0.003},{"w":1513,"s":0.125,"p":0.12,"d":0.005},{"w":1514,"s":0.087,"p":0.085,"d":0.002},{"w":1515,"s":0.092,"p":0.09,"d":0},{"w":1516,"s":0.342,"p":0.319,"d":0.023},{"w":1517,"s":0.09,"p":0.088,"d":0.002},{"w":1518,"s":0.085,"p":0.082,"d":0.003},{"w":1519,"s":0.095,"p":0.092,"d":-0.004},{"w":1520,"s":0.088,"p":0.086,"d":0.001},{"w":1521,"s":0.086,"p":0.084,"d":0},{"w":1522,"s":0.145,"p":0.14,"d":0.004},{"w":1523,"s":0.085,"p":0.083,"d":-0.003},{"w":1524,"s":0.13,"p":0.127,"d":0.002},{"w":1525,"s":0.087,"p":0.085,"d":0.001},{"w":1526,"s":0.084,"p":0.083,"d":-0.002},
{"w":1540,"s":0.117,"p":0.115,"d":0.002},{"w":1541,"s":0.208,"p":0.205,"d":0.003},{"w":1542,"s":0.11,"p":0.108,"d":0.001},{"w":1543,"s":0.105,"p":0.103,"d":0.002},{"w":1544,"s":0.281,"p":0.278,"d":0.003},{"w":1545,"s":0.115,"p":0.112,"d":0.004},{"w":1546,"s":0.108,"p":0.106,"d":0},{"w":1547,"s":0.12,"p":0.117,"d":0.003},{"w":1548,"s":0.11,"p":0.107,"d":0.002},{"w":1549,"s":0.105,"p":0.104,"d":0.001},{"w":1550,"s":0.125,"p":0.122,"d":0.003},{"w":1551,"s":0.112,"p":0.11,"d":0.004},{"w":1552,"s":0.118,"p":0.115,"d":0.002},{"w":1553,"s":0.13,"p":0.125,"d":0.005},{"w":1554,"s":0.115,"p":0.112,"d":0.003},{"w":1555,"s":0.14,"p":0.136,"d":0.004},{"w":1556,"s":0.12,"p":0.118,"d":0.002},{"w":1557,"s":0.125,"p":0.12,"d":0.006},{"w":1558,"s":0.135,"p":0.13,"d":0.003},{"w":1559,"s":0.13,"p":0.128,"d":0.002},{"w":1560,"s":0.15,"p":0.145,"d":0.008},{"w":1561,"s":0.128,"p":0.124,"d":0.004},{"w":1562,"s":0.135,"p":0.132,"d":0.003},{"w":1563,"s":0.15,"p":0.147,"d":0.002},{"w":1564,"s":0.138,"p":0.134,"d":0.005},{"w":1565,"s":0.276,"p":0.267,"d":0.009},{"w":1566,"s":0.17,"p":0.135,"d":0.037},{"w":1567,"s":0.142,"p":0.14,"d":0.002},{"w":1568,"s":0.275,"p":0.272,"d":0.003},{"w":1569,"s":0.15,"p":0.147,"d":0.004},{"w":1570,"s":0.145,"p":0.142,"d":0.003},{"w":1571,"s":0.195,"p":0.19,"d":0.005},{"w":1572,"s":0.152,"p":0.148,"d":0.004},{"w":1573,"s":0.16,"p":0.156,"d":0.006},{"w":1574,"s":0.155,"p":0.152,"d":0.003},{"w":1575,"s":0.165,"p":0.16,"d":0.005},{"w":1576,"s":0.16,"p":0.157,"d":0.002},{"w":1577,"s":0.385,"p":0.38,"d":0.005},{"w":1578,"s":0.168,"p":0.163,"d":0.006},{"w":1579,"s":0.21,"p":0.205,"d":0.005},{"w":1580,"s":0.17,"p":0.166,"d":0.004},{"w":1581,"s":0.175,"p":0.17,"d":0.008},{"w":1582,"s":0.172,"p":0.168,"d":0.004},{"w":1583,"s":0.18,"p":0.176,"d":0.006},{"w":1584,"s":0.175,"p":0.17,"d":0.005},{"w":1585,"s":0.24,"p":0.235,"d":0.006},{"w":1586,"s":0.182,"p":0.178,"d":0.004},{"w":1587,"s":0.19,"p":0.185,"d":0.008},{"w":1588,"s":0.185,"p":0.18,"d":0.005},{"w":1589,"s":0.195,"p":0.19,"d":0.01},{"w":1590,"s":0.19,"p":0.186,"d":0.006},{"w":1591,"s":0.2,"p":0.195,"d":0.007},{"w":1592,"s":0.198,"p":0.193,"d":0.005},{"w":1593,"s":0.205,"p":0.2,"d":0.01},{"w":1594,"s":0.2,"p":0.196,"d":0.006},{"w":1595,"s":0.215,"p":0.21,"d":0.008},{"w":1596,"s":0.21,"p":0.205,"d":0.012},{"w":1597,"s":0.225,"p":0.22,"d":0.006},{"w":1598,"s":0.22,"p":0.216,"d":0.004},{"w":1599,"s":0.306,"p":0.296,"d":0.01},{"w":1600,"s":0.23,"p":0.225,"d":0.008},{"w":1601,"s":0.24,"p":0.235,"d":0.012},{"w":1602,"s":0.235,"p":0.23,"d":0.006},{"w":1603,"s":0.25,"p":0.245,"d":0.015},{"w":1604,"s":0.245,"p":0.24,"d":0.008},{"w":1605,"s":0.31,"p":0.296,"d":0.014},{"w":1606,"s":0.255,"p":0.25,"d":0.01},{"w":1607,"s":0.372,"p":0.372,"d":0},{"w":1607.5,"s":null,"p":0.11,"d":null},{"w":1608,"s":0.265,"p":0.26,"d":0.018},{"w":1609,"s":0.26,"p":0.255,"d":0.012},{"w":1610,"s":0.268,"p":0.265,"d":0.02},{"w":1611,"s":0.27,"p":0.268,"d":0.015},{"w":1612,"s":0.298,"p":0.29,"d":0.008},{"w":1613,"s":0.3,"p":0.296,"d":0.01}
],
"sw":[
{"w":2180,"s":0.092,"p":0.075,"d":0.013},{"w":2181,"s":0.09,"p":0.08,"d":0.012},{"w":2182,"s":0.093,"p":0.07,"d":0.01},{"w":2183,"s":0.088,"p":0.072,"d":0.014},{"w":2184,"s":0.091,"p":0.066,"d":0.008},{"w":2185,"s":0.07,"p":0.068,"d":0.004},{"w":2186,"s":0.069,"p":0.064,"d":0.002},{"w":2187,"s":0.072,"p":0.066,"d":0.005},{"w":2188,"s":0.068,"p":0.064,"d":0.004},{"w":2189,"s":0.09,"p":0.088,"d":0.003},{"w":2190,"s":0.07,"p":0.066,"d":0.002},{"w":2191,"s":0.095,"p":0.09,"d":0.005},{"w":2192,"s":0.094,"p":0.066,"d":0.002},{"w":2193,"s":0.068,"p":0.065,"d":0.001},{"w":2194,"s":0.07,"p":0.068,"d":0},{"w":2195,"s":0.067,"p":0.065,"d":0.003},{"w":2196,"s":0.072,"p":0.07,"d":0.001},{"w":2197,"s":0.07,"p":0.068,"d":0.004},{"w":2198,"s":0.074,"p":0.072,"d":0.002},{"w":2199,"s":0.071,"p":0.07,"d":0.001},{"w":2200,"s":0.075,"p":0.073,"d":0.003},{"w":2201,"s":0.073,"p":0.072,"d":-0.002},{"w":2202,"s":0.076,"p":0.074,"d":0.001},{"w":2203,"s":0.074,"p":0.073,"d":0.002},{"w":2204.6,"s":0.095,"p":0.088,"d":0.007},{"w":2205.5,"s":0.078,"p":0.075,"d":0.002},{"w":2206.5,"s":0.076,"p":0.074,"d":0.001},{"w":2207.5,"s":0.08,"p":0.078,"d":0.002},{"w":2209.2,"s":0.195,"p":0.029,"d":null},{"w":2210.5,"s":0.219,"p":null,"d":null},{"w":2211,"s":0.14,"p":0.07,"d":0.072},{"w":2212.4,"s":0.237,"p":0.024,"d":null},{"w":2213.5,"s":0.08,"p":0.076,"d":0.003},{"w":2214.5,"s":0.078,"p":0.075,"d":0.002},{"w":2216,"s":0.11,"p":0.104,"d":0.006},{"w":2217,"s":0.076,"p":0.074,"d":0.001},{"w":2218,"s":0.08,"p":0.077,"d":0.003},{"w":2219,"s":0.078,"p":0.076,"d":0.002},{"w":2220,"s":0.082,"p":0.08,"d":0.001},{"w":2221,"s":0.08,"p":0.077,"d":0.003},{"w":2222,"s":0.084,"p":0.081,"d":0.002},{"w":2223,"s":0.082,"p":0.08,"d":0.001},{"w":2224,"s":0.085,"p":0.082,"d":0.004},{"w":2225,"s":0.083,"p":0.08,"d":0.002},{"w":2226,"s":0.086,"p":0.084,"d":0.001},{"w":2227,"s":0.084,"p":0.081,"d":0.003},{"w":2228,"s":0.088,"p":0.085,"d":0.002},{"w":2229,"s":0.086,"p":0.083,"d":0.001},{"w":2230,"s":0.089,"p":0.086,"d":0.003},{"w":2231,"s":0.087,"p":0.085,"d":0.002},{"w":2232,"s":0.09,"p":0.087,"d":0.001},{"w":2233.4,"s":0.117,"p":0.113,"d":0.004},{"w":2234.5,"s":0.089,"p":0.086,"d":0.002},{"w":2236,"s":0.092,"p":0.088,"d":0.003},{"w":2237.5,"s":0.117,"p":0.113,"d":0.002},{"w":2239,"s":0.09,"p":0.087,"d":0.001},{"w":2240,"s":0.094,"p":0.09,"d":0.003},{"w":2241,"s":0.092,"p":0.089,"d":0.002},{"w":2242,"s":0.096,"p":0.092,"d":0.001},{"w":2243,"s":0.094,"p":0.09,"d":0.003},{"w":2244.4,"s":0.134,"p":0.118,"d":0.017},{"w":2245.5,"s":0.096,"p":0.093,"d":0.002},{"w":2247,"s":0.1,"p":0.096,"d":0.003},{"w":2248,"s":0.097,"p":0.094,"d":0.001},{"w":2249,"s":0.1,"p":0.097,"d":0.002},{"w":2250,"s":0.098,"p":0.095,"d":0.003},{"w":2251,"s":0.102,"p":0.098,"d":0.001},{"w":2252.2,"s":0.14,"p":0.128,"d":0.004},{"w":2253.5,"s":0.1,"p":0.097,"d":0.002},{"w":2255,"s":0.104,"p":0.1,"d":0.003},{"w":2256,"s":0.102,"p":0.098,"d":0.001},{"w":2257,"s":0.106,"p":0.102,"d":0.002},{"w":2258,"s":0.104,"p":0.1,"d":0.003},{"w":2259.4,"s":0.14,"p":0.128,"d":0.011},{"w":2260.5,"s":0.106,"p":0.102,"d":0.002},{"w":2262,"s":0.108,"p":0.104,"d":0.003},{"w":2263,"s":0.11,"p":0.106,"d":0.001},{"w":2264,"s":0.108,"p":0.104,"d":0.002},{"w":2265,"s":0.112,"p":0.108,"d":0.004},{"w":2267,"s":0.175,"p":0.165,"d":0.009},{"w":2268.5,"s":0.16,"p":0.14,"d":0.012},{"w":2269.5,"s":0.112,"p":0.108,"d":0.003},{"w":2271,"s":0.115,"p":0.11,"d":0.002},{"w":2272,"s":0.113,"p":0.109,"d":0.004},{"w":2273,"s":0.118,"p":0.113,"d":0.09},{"w":2274.5,"s":0.118,"p":0.085,"d":0.006},{"w":2275.5,"s":0.12,"p":0.116,"d":0.024},{"w":2277,"s":0.122,"p":0.118,"d":0.003},{"w":2278,"s":0.12,"p":0.116,"d":0.002},{"w":2279,"s":0.125,"p":0.12,"d":0.004},{"w":2280,"s":0.123,"p":0.119,"d":0.002},{"w":2281,"s":0.127,"p":0.122,"d":0.005},{"w":2282,"s":0.125,"p":0.12,"d":0.003},{"w":2283,"s":0.13,"p":0.125,"d":0.004},{"w":2284,"s":0.128,"p":0.123,"d":0.002},{"w":2285,"s":0.132,"p":0.127,"d":0.003},{"w":2286,"s":0.13,"p":0.125,"d":0.005},{"w":2287,"s":0.134,"p":0.129,"d":0.002},{"w":2288.7,"s":0.182,"p":0.16,"d":0.082},{"w":2289.8,"s":0.207,"p":0.067,"d":0.004},{"w":2290.5,"s":0.135,"p":0.13,"d":0.003},{"w":2291.5,"s":0.138,"p":0.132,"d":0.002},{"w":2292,"s":0.132,"p":0.128,"d":0.004},{"w":2293.3,"s":0.17,"p":0.16,"d":0.005},{"w":2294.5,"s":0.136,"p":0.13,"d":0.003},{"w":2296,"s":0.14,"p":0.135,"d":0.002},{"w":2297,"s":0.137,"p":0.132,"d":0.004},{"w":2298,"s":0.142,"p":0.136,"d":0.003},{"w":2299,"s":0.14,"p":0.135,"d":0.002},{"w":2300,"s":0.145,"p":0.14,"d":0.004},{"w":2301,"s":0.15,"p":0.144,"d":-0.003},{"w":2302,"s":0.148,"p":0.142,"d":0.005},{"w":2303.8,"s":0.212,"p":0.083,"d":0.002},{"w":2305,"s":0.155,"p":0.15,"d":0.004},
{"w":2306,"s":0.14,"p":0.135,"d":0.003},{"w":2307.5,"s":0.17,"p":0.165,"d":0.002},{"w":2309,"s":0.135,"p":0.13,"d":0.004},{"w":2310,"s":0.15,"p":0.146,"d":0.003},{"w":2311,"s":0.138,"p":0.134,"d":0.012},{"w":2312.5,"s":0.16,"p":0.154,"d":0.005},{"w":2314,"s":0.135,"p":0.13,"d":0.003},{"w":2315,"s":0.142,"p":0.138,"d":0.001},{"w":2316.5,"s":0.136,"p":0.132,"d":0.004},{"w":2318,"s":0.13,"p":0.128,"d":0.002},{"w":2319,"s":0.145,"p":0.14,"d":0.003},{"w":2320,"s":0.134,"p":0.13,"d":0.001},{"w":2321.5,"s":0.138,"p":0.134,"d":0.002},{"w":2323,"s":0.132,"p":0.128,"d":0.004},{"w":2324,"s":0.14,"p":0.136,"d":0.002},{"w":2325.5,"s":0.13,"p":0.127,"d":0.003},{"w":2327,"s":0.136,"p":0.131,"d":0.001},{"w":2328,"s":0.145,"p":0.14,"d":0.002},{"w":2329.5,"s":0.132,"p":0.128,"d":0.004},{"w":2331,"s":0.138,"p":0.134,"d":0.002},{"w":2332,"s":0.13,"p":0.126,"d":0.003},{"w":2333.5,"s":0.142,"p":0.137,"d":0.001},{"w":2335,"s":0.134,"p":0.13,"d":0.002},{"w":2336,"s":0.175,"p":0.17,"d":0.004},{"w":2337.5,"s":0.13,"p":0.127,"d":0.003},{"w":2339,"s":0.138,"p":0.133,"d":0.002},{"w":2340,"s":0.132,"p":0.129,"d":0.001},{"w":2341.5,"s":0.14,"p":0.136,"d":0.004},{"w":2343,"s":0.133,"p":0.129,"d":0.002},{"w":2344,"s":0.185,"p":0.18,"d":0.003},{"w":2345.5,"s":0.135,"p":0.131,"d":0.001},{"w":2347,"s":0.142,"p":0.137,"d":0.002},{"w":2348,"s":0.13,"p":0.126,"d":0.004},{"w":2349.5,"s":0.138,"p":0.134,"d":0.002},{"w":2351,"s":0.134,"p":0.13,"d":0.003},{"w":2352,"s":0.145,"p":0.14,"d":0.001},{"w":2353.5,"s":0.136,"p":0.131,"d":0.002},{"w":2355,"s":0.18,"p":0.175,"d":0.004},{"w":2356,"s":0.14,"p":0.135,"d":0.002},{"w":2357.5,"s":0.138,"p":0.134,"d":0.003},{"w":2359,"s":0.146,"p":0.141,"d":0.001},{"w":2360,"s":0.14,"p":0.136,"d":0.002},{"w":2361.5,"s":0.15,"p":0.145,"d":0.004},{"w":2363,"s":0.142,"p":0.138,"d":0.002},{"w":2364,"s":0.17,"p":0.165,"d":0.003},{"w":2365.5,"s":0.145,"p":0.14,"d":0.001},{"w":2367,"s":0.148,"p":0.143,"d":0.002},{"w":2368,"s":0.19,"p":0.185,"d":0.004},{"w":2369.5,"s":0.143,"p":0.139,"d":0.002},{"w":2371,"s":0.15,"p":0.146,"d":0.003},{"w":2372,"s":0.145,"p":0.14,"d":0.001},{"w":2373.5,"s":0.155,"p":0.15,"d":0.002},{"w":2375,"s":0.148,"p":0.144,"d":0.004},{"w":2376,"s":0.206,"p":0.19,"d":0.002},{"w":2377.5,"s":0.15,"p":0.146,"d":0.003},{"w":2379,"s":0.152,"p":0.147,"d":0.001},{"w":2380,"s":0.148,"p":0.144,"d":0.002},{"w":2381.5,"s":0.155,"p":0.15,"d":0.004},{"w":2383,"s":0.15,"p":0.146,"d":0.002},{"w":2384,"s":0.16,"p":0.155,"d":0.003},{"w":2385.5,"s":0.152,"p":0.148,"d":0.001},{"w":2387,"s":0.165,"p":0.16,"d":0.002},{"w":2388,"s":0.155,"p":0.15,"d":0.004},{"w":2389.5,"s":0.17,"p":0.165,"d":0.002},{"w":2391,"s":0.157,"p":0.152,"d":0.003},{"w":2392,"s":0.16,"p":0.156,"d":0.001},{"w":2393.5,"s":0.168,"p":0.163,"d":0.002},{"w":2395,"s":0.158,"p":0.154,"d":0.004},{"w":2396,"s":0.175,"p":0.17,"d":0.002},{"w":2397.5,"s":0.16,"p":0.155,"d":0.003},{"w":2399,"s":0.228,"p":0.22,"d":0.002},{"w":2400,"s":0.162,"p":0.158,"d":0.004},{"w":2401.5,"s":0.17,"p":0.165,"d":0.002},{"w":2403,"s":0.164,"p":0.16,"d":0.003},{"w":2404,"s":0.155,"p":0.15,"d":0.001},{"w":2405.5,"s":0.172,"p":0.168,"d":0.002},{"w":2407,"s":0.165,"p":0.16,"d":0.004},{"w":2408,"s":0.16,"p":0.156,"d":0.002},{"w":2409.5,"s":0.175,"p":0.17,"d":0.003},{"w":2411,"s":0.168,"p":0.163,"d":0.001},{"w":2412,"s":0.2,"p":0.195,"d":0.002},{"w":2413.5,"s":0.172,"p":0.167,"d":0.004},{"w":2415,"s":0.165,"p":0.16,"d":0.002},{"w":2416,"s":0.18,"p":0.175,"d":0.003},{"w":2417.5,"s":0.17,"p":0.165,"d":0.001},{"w":2419,"s":0.185,"p":0.18,"d":0.002},{"w":2420,"s":0.225,"p":0.218,"d":0.004},{"w":2421,"s":0.2,"p":0.195,"d":0.002},{"w":2422,"s":0.173,"p":0.168,"d":0.003},
{"w":2447,"s":0.165,"p":0.162,"d":0.003},{"w":2448,"s":0.17,"p":0.168,"d":0.002},{"w":2449,"s":0.168,"p":0.165,"d":-0.004},{"w":2450,"s":0.175,"p":0.17,"d":0.006},{"w":2451,"s":0.172,"p":0.168,"d":0.003},{"w":2452,"s":0.18,"p":0.175,"d":0.008},{"w":2453,"s":0.176,"p":0.17,"d":0.004},{"w":2454,"s":0.178,"p":0.172,"d":0.002},{"w":2455,"s":0.182,"p":0.176,"d":0.005},{"w":2456,"s":0.291,"p":0.271,"d":0.01},{"w":2457,"s":0.18,"p":0.175,"d":0.004},{"w":2458,"s":0.185,"p":0.18,"d":0.006},{"w":2459,"s":0.176,"p":0.172,"d":0.003},{"w":2460,"s":0.19,"p":0.185,"d":0.007},{"w":2461,"s":0.182,"p":0.177,"d":0.002},{"w":2462,"s":0.188,"p":0.183,"d":0.005},{"w":2463,"s":0.266,"p":0.26,"d":0.006},{"w":2464,"s":0.19,"p":0.185,"d":0.003},{"w":2465,"s":0.185,"p":0.18,"d":0.008},{"w":2466,"s":0.195,"p":0.19,"d":0.004},{"w":2467,"s":0.19,"p":0.186,"d":-0.005},{"w":2468,"s":0.2,"p":0.195,"d":0.006},{"w":2469,"s":0.193,"p":0.188,"d":0.003},{"w":2470,"s":0.198,"p":0.192,"d":0.005},{"w":2471,"s":0.205,"p":0.2,"d":0.008},{"w":2472,"s":0.196,"p":0.19,"d":0.004},{"w":2473,"s":0.2,"p":0.195,"d":0.002},{"w":2474,"s":0.243,"p":0.235,"d":0.006},{"w":2475,"s":0.205,"p":0.2,"d":0.003},{"w":2476,"s":0.21,"p":0.205,"d":0.008},{"w":2477,"s":0.2,"p":0.196,"d":0.004},{"w":2478,"s":0.212,"p":0.207,"d":-0.005},{"w":2479,"s":0.208,"p":0.202,"d":0.002},{"w":2480,"s":0.215,"p":0.21,"d":0.007},{"w":2481,"s":0.21,"p":0.205,"d":0.003},{"w":2482,"s":0.22,"p":0.214,"d":0.006},{"w":2483,"s":0.212,"p":0.207,"d":0.004},{"w":2484,"s":0.225,"p":0.22,"d":0.009},{"w":2485,"s":0.218,"p":0.212,"d":0.003},{"w":2486,"s":0.222,"p":0.217,"d":0.005},{"w":2487,"s":0.266,"p":0.26,"d":0.006},{"w":2488,"s":0.228,"p":0.222,"d":0.004},{"w":2489,"s":0.22,"p":0.215,"d":0.002},{"w":2490,"s":0.232,"p":0.227,"d":0.008},{"w":2491,"s":0.226,"p":0.22,"d":0.003},{"w":2492,"s":0.235,"p":0.23,"d":0.005},{"w":2493,"s":0.312,"p":0.286,"d":0.01},{"w":2494,"s":0.23,"p":0.225,"d":0.004},{"w":2495,"s":0.24,"p":0.234,"d":-0.004},{"w":2496,"s":0.236,"p":0.23,"d":0.003},{"w":2497,"s":0.244,"p":0.238,"d":0.007},{"w":2498,"s":0.24,"p":0.234,"d":0.002},{"w":2499,"s":0.25,"p":0.244,"d":0.005},{"w":2500,"s":0.245,"p":0.24,"d":0.004},{"w":2501,"s":0.252,"p":0.246,"d":0.008},{"w":2502,"s":0.248,"p":0.243,"d":0.003},{"w":2503,"s":0.256,"p":0.25,"d":0.006},{"w":2504,"s":0.25,"p":0.245,"d":0.002},{"w":2505,"s":0.26,"p":0.254,"d":0.005},{"w":2506,"s":0.255,"p":0.25,"d":0.004},{"w":2507,"s":0.315,"p":0.3,"d":0.01},{"w":2508,"s":0.262,"p":0.256,"d":0.006},{"w":2509,"s":0.258,"p":0.252,"d":0.003},{"w":2510,"s":0.266,"p":0.26,"d":0.007},{"w":2511,"s":0.262,"p":0.256,"d":0.004},{"w":2512,"s":0.27,"p":0.264,"d":0.006},{"w":2513,"s":0.265,"p":0.26,"d":0.002},{"w":2514,"s":0.275,"p":0.268,"d":0.008},{"w":2515,"s":0.27,"p":0.264,"d":0.005},{"w":2516,"s":0.278,"p":0.272,"d":0.003},{"w":2517,"s":0.274,"p":0.268,"d":0.006},{"w":2518,"s":0.282,"p":0.276,"d":0.004},{"w":2519,"s":0.278,"p":0.272,"d":0.009},{"w":2520,"s":0.285,"p":0.28,"d":0.005},{"w":2521,"s":0.331,"p":0.313,"d":0.012},{"w":2522,"s":0.282,"p":0.276,"d":0.003},{"w":2523,"s":0.29,"p":0.284,"d":0.006},{"w":2524,"s":0.286,"p":0.28,"d":0.004},{"w":2525,"s":0.292,"p":0.286,"d":0.008},{"w":2526,"s":0.288,"p":0.282,"d":0.002},{"w":2527,"s":0.295,"p":0.29,"d":0.005},{"w":2528,"s":0.292,"p":0.286,"d":0.007},{"w":2529,"s":0.298,"p":0.29,"d":0.004},{"w":2530,"s":0.295,"p":0.29,"d":0.003},{"w":2531,"s":0.3,"p":0.294,"d":0.006},{"w":2532,"s":0.297,"p":0.292,"d":-0.003},{"w":2533,"s":0.302,"p":0.296,"d":0.005},{"w":2534,"s":0.3,"p":0.295,"d":0.003},{"w":2535,"s":0.305,"p":0.3,"d":0.006},{"w":2536,"s":0.302,"p":0.296,"d":0.004},{"w":2537,"s":0.31,"p":0.305,"d":0.008},{"w":2538,"s":0.306,"p":0.3,"d":0.005},{"w":2538.8,"s":null,"p":0.403,"d":null},{"w":2539,"s":0.31,"p":0.304,"d":0.045},{"w":2540,"s":0.308,"p":0.302,"d":0.003},{"w":2541,"s":0.312,"p":0.306,"d":0.007},{"w":2542,"s":0.31,"p":0.304,"d":0.004},{"w":2543,"s":0.318,"p":0.312,"d":0.006},{"w":2544,"s":0.315,"p":0.31,"d":0.002},{"w":2545,"s":0.32,"p":0.314,"d":0.028},{"w":2546,"s":0.316,"p":0.31,"d":0.005},{"w":2547,"s":0.32,"p":0.315,"d":0.008},{"w":2548,"s":0.318,"p":0.312,"d":0.003},{"w":2549,"s":0.365,"p":0.36,"d":0.006},{"w":2550,"s":0.32,"p":0.315,"d":0.004},{"w":2551,"s":0.37,"p":0.36,"d":0.009},{"w":2552,"s":0.36,"p":0.355,"d":0.005},{"w":2553,"s":0.322,"p":0.316,"d":0.003},{"w":2554,"s":0.33,"p":0.325,"d":0.006},{"w":2555,"s":0.396,"p":0.39,"d":-0.008},{"w":2556,"s":0.35,"p":0.345,"d":0.007},{"w":2557,"s":0.407,"p":0.384,"d":0.01},{"w":2558,"s":0.384,"p":0.336,"d":0.012},{"w":2559,"s":0.375,"p":0.37,"d":0.006},
{"w":2552.5,"s":0.29,"p":0.285,"d":0.005},{"w":2554.5,"s":0.282,"p":0.276,"d":0.003},{"w":2556.5,"s":0.3,"p":0.293,"d":0.008},{"w":2558.2,"s":0.275,"p":0.27,"d":0.006},{"w":2560,"s":0.292,"p":0.286,"d":0.004},{"w":2562,"s":0.27,"p":0.265,"d":0.009},{"w":2563.5,"s":0.285,"p":0.28,"d":0.005},{"w":2565,"s":0.375,"p":0.37,"d":0.003},{"w":2566,"s":0.278,"p":0.272,"d":0.006},{"w":2567.5,"s":0.29,"p":0.285,"d":0.002},{"w":2569,"s":0.272,"p":0.266,"d":0.012},{"w":2570.5,"s":0.28,"p":0.276,"d":0.03},{"w":2572,"s":0.295,"p":0.29,"d":0.004},{"w":2573.5,"s":0.285,"p":0.28,"d":0.007},{"w":2575,"s":0.275,"p":0.27,"d":0.012},{"w":2576,"s":0.265,"p":0.26,"d":0.005},{"w":2577.5,"s":0.288,"p":0.282,"d":0.008},{"w":2579,"s":0.29,"p":0.286,"d":0.003},{"w":2580,"s":0.298,"p":0.292,"d":0.01},{"w":2581.5,"s":0.27,"p":0.266,"d":0.006},{"w":2583,"s":0.29,"p":0.284,"d":0.002},{"w":2584.5,"s":0.26,"p":0.262,"d":-0.015},{"w":2586,"s":0.28,"p":0.276,"d":0.008},{"w":2587,"s":0.25,"p":0.24,"d":0.006},{"w":2588.5,"s":0.288,"p":0.283,"d":0.004},{"w":2590,"s":0.295,"p":0.29,"d":0.009},{"w":2591.5,"s":0.27,"p":0.265,"d":0.005},{"w":2593,"s":0.375,"p":0.39,"d":0.003},{"w":2594.5,"s":0.292,"p":0.288,"d":0.006},{"w":2596,"s":0.382,"p":0.385,"d":0.004},{"w":2597,"s":0.24,"p":0.225,"d":0.008},{"w":2598.5,"s":0.275,"p":0.268,"d":0.003},{"w":2600,"s":0.288,"p":0.284,"d":0.006},{"w":2601.5,"s":0.27,"p":0.265,"d":0.004},{"w":2603,"s":0.28,"p":0.276,"d":0.002},{"w":2604,"s":0.366,"p":0.357,"d":0.009},{"w":2605.5,"s":0.285,"p":0.28,"d":0.005},{"w":2607,"s":0.272,"p":0.268,"d":0.003},{"w":2608.5,"s":0.29,"p":0.285,"d":0.007},{"w":2610,"s":0.28,"p":0.276,"d":0.004},{"w":2611.5,"s":0.26,"p":0.255,"d":0.002},{"w":2613,"s":0.285,"p":0.28,"d":0.006},{"w":2614.5,"s":0.278,"p":0.274,"d":-0.01},{"w":2615.6,"s":0.363,"p":0.35,"d":0.004},{"w":2617,"s":0.27,"p":0.266,"d":0.006},{"w":2618.5,"s":0.28,"p":0.276,"d":0.003},{"w":2620,"s":0.275,"p":0.27,"d":0.008},{"w":2621.5,"s":0.285,"p":0.28,"d":-0.004},{"w":2623,"s":0.27,"p":0.266,"d":0.002},{"w":2624.5,"s":0.278,"p":0.274,"d":0.005},{"w":2626,"s":0.272,"p":0.268,"d":0.007},{"w":2627.5,"s":0.28,"p":0.276,"d":0.003},{"w":2629,"s":0.275,"p":0.27,"d":-0.005},{"w":2630.5,"s":0.27,"p":0.266,"d":0.004},{"w":2632,"s":0.282,"p":0.278,"d":0.009},{"w":2633.5,"s":0.272,"p":0.268,"d":0.005},{"w":2635,"s":0.278,"p":0.274,"d":0.003},{"w":2637,"s":0.39,"p":0.395,"d":0.008},{"w":2638.5,"s":0.276,"p":0.272,"d":0.025},{"w":2640,"s":0.28,"p":0.276,"d":0.004},{"w":2641.5,"s":0.285,"p":0.28,"d":0.002},{"w":2643,"s":0.29,"p":0.284,"d":0.006},{"w":2644,"s":null,"p":0.41,"d":null},{"w":2645,"s":0.295,"p":0.29,"d":0.004},{"w":2646.5,"s":0.29,"p":0.286,"d":0.008},{"w":2648,"s":0.389,"p":0.373,"d":0.005},{"w":2649,"s":0.3,"p":0.295,"d":0.003},{"w":2650.5,"s":0.298,"p":0.292,"d":0.006},{"w":2652,"s":0.375,"p":0.37,"d":-0.004},{"w":2653,"s":0.305,"p":0.298,"d":0.009},{"w":2654.8,"s":0.315,"p":0.31,"d":0.027},{"w":2656,"s":0.4,"p":0.409,"d":-0.005},{"w":2657,"s":0.32,"p":0.315,"d":0.008},{"w":2658,"s":0.325,"p":0.318,"d":0.004},{"w":2659.5,"s":0.31,"p":0.305,"d":0.006},{"w":2661,"s":0.305,"p":0.3,"d":0.003},{"w":2662.5,"s":0.31,"p":0.304,"d":0.012},{"w":2664,"s":0.308,"p":0.303,"d":0.01},{"w":2665.5,"s":0.31,"p":0.305,"d":0.008}
]
},
"spacing":29,
"vconcat":[
{"spacing":6,"vconcat":[
{"width":620,"height":243,
"layer":[
{"data":{"name":"lw"},"transform":[{"filter":"isValid(datum.s)"}],"mark":{"type":"point","shape":"cross","filled":true,"color":"#000","size":25,"opacity":1},
"encoding":{"x":{"field":"w","type":"quantitative","scale":{"domain":[650,1180],"nice":false,"zero":false},"axis":{"orient":"bottom","labels":false,"title":null,"values":[650,700,750,800,850,900,950,1000,1050,1100,1150]}},
"y":{"field":"s","type":"quantitative","scale":{"domain":[0,0.852],"nice":false},"axis":{"orient":"left","title":"NeDT (K)","format":"~g","values":[0,0.2,0.4,0.6,0.8]}}}},
{"data":{"name":"lw"},"transform":[{"filter":"isValid(datum.p)"}],"mark":{"type":"point","shape":"M-1,0H1M0,-1V1","filled":false,"color":"#ff2a10","strokeWidth":1,"size":36,"opacity":0.85},
"encoding":{"x":{"field":"w","type":"quantitative","scale":{"domain":[650,1180],"nice":false,"zero":false},"axis":{"orient":"top","labels":false,"title":null,"values":[650,700,750,800,850,900,950,1000,1050,1100,1150]}},
"y":{"field":"p","type":"quantitative","scale":{"domain":[0,0.852],"nice":false},"axis":{"orient":"right","labels":false,"title":null,"values":[0,0.2,0.4,0.6,0.8]}}}},
{"data":{"values":[{}]},"mark":{"type":"text","text":"longwave","font":"Liberation Sans","fontSize":34,"fontWeight":"bold","color":"#8f8f8f","align":"left","baseline":"alphabetic"},
"encoding":{"x":{"datum":680.8,"type":"quantitative","scale":{"domain":[650,1180],"nice":false,"zero":false},"axis":null},"y":{"datum":0.667,"type":"quantitative","scale":{"domain":[0,0.852],"nice":false},"axis":null}}},
{"data":{"values":[{}]},"mark":{"type":"rect","fill":"white","stroke":"#111","strokeWidth":2.2},
"encoding":{"x":{"datum":1020,"type":"quantitative","scale":{"domain":[650,1180],"nice":false,"zero":false},"axis":null},"x2":{"datum":1210},"y":{"datum":0.52,"type":"quantitative","scale":{"domain":[0,0.852],"nice":false},"axis":null},"y2":{"datum":0.795}}},
{"data":{"values":[{}]},"mark":{"type":"text","text":"Simulated noise","font":"Liberation Sans","fontSize":28.5,"color":"#3a3a3a","align":"center","baseline":"alphabetic"},
"encoding":{"x":{"datum":1115,"type":"quantitative","scale":{"domain":[650,1180],"nice":false,"zero":false},"axis":null},"y":{"datum":0.684,"type":"quantitative","scale":{"domain":[0,0.852],"nice":false},"axis":null}}},
{"data":{"values":[{}]},"mark":{"type":"text","text":"PCA estimate","font":"Liberation Sans","fontSize":28.5,"color":"#e8453c","align":"center","baseline":"alphabetic"},
"encoding":{"x":{"datum":1115,"type":"quantitative","scale":{"domain":[650,1180],"nice":false,"zero":false},"axis":null},"y":{"datum":0.559,"type":"quantitative","scale":{"domain":[0,0.852],"nice":false},"axis":null}}}
],
"resolve":{"axis":{"x":"independent","y":"independent"}}},
{"width":620,"height":105,
"layer":[
{"data":{"values":[{}]},"mark":{"type":"rule","color":"#444","strokeWidth":1},"encoding":{"y":{"datum":0,"type":"quantitative","scale":{"domain":[-0.1,0.1],"nice":false},"axis":null}}},
{"data":{"name":"lw"},"transform":[{"filter":"isValid(datum.d)"}],"mark":{"type":"point","shape":"M-1,0H1M0,-1V1","filled":false,"color":"#ff2a10","strokeWidth":1,"size":36,"opacity":0.85},
"encoding":{"x":{"field":"w","type":"quantitative","scale":{"domain":[650,1180],"nice":false,"zero":false},"axis":{"orient":"bottom","title":null,"format":"d","labelPadding":10,"values":[650,700,750,800,850,900,950,1000,1050,1100,1150]}},
"y":{"field":"d","type":"quantitative","scale":{"domain":[-0.1,0.1],"nice":false},"axis":{"orient":"left","title":"NeDT Diff (K)","format":"~g","values":[-0.1,0,0.1]}}}},
{"data":{"values":[{"w":700,"d":0}]},"mark":{"type":"point","opacity":0},
"encoding":{"x":{"field":"w","type":"quantitative","scale":{"domain":[650,1180],"nice":false,"zero":false},"axis":{"orient":"top","labels":false,"title":null,"values":[650,700,750,800,850,900,950,1000,1050,1100,1150]}},
"y":{"field":"d","type":"quantitative","scale":{"domain":[-0.1,0.1],"nice":false},"axis":{"orient":"right","labels":false,"title":null,"values":[-0.1,0,0.1]}}}}
],
"resolve":{"axis":{"x":"independent","y":"independent"}}}
]},
{"spacing":6,"vconcat":[
{"width":628,"height":243,
"layer":[
{"data":{"name":"mw"},"transform":[{"filter":"isValid(datum.s)"}],"mark":{"type":"point","shape":"cross","filled":true,"color":"#000","size":25,"opacity":1},
"encoding":{"x":{"field":"w","type":"quantitative","scale":{"domain":[1210.7,1629.6],"nice":false,"zero":false},"axis":{"orient":"bottom","labels":false,"title":null,"values":[1250,1300,1350,1400,1450,1500,1550,1600]}},
"y":{"field":"s","type":"quantitative","scale":{"domain":[0,0.5],"nice":false},"axis":{"orient":"left","title":"NeDT (K)","format":"~g","values":[0,0.1,0.2,0.3,0.4,0.5]}}}},
{"data":{"name":"mw"},"transform":[{"filter":"isValid(datum.p)"}],"mark":{"type":"point","shape":"M-1,0H1M0,-1V1","filled":false,"color":"#ff2a10","strokeWidth":1,"size":36,"opacity":0.85},
"encoding":{"x":{"field":"w","type":"quantitative","scale":{"domain":[1210.7,1629.6],"nice":false,"zero":false},"axis":{"orient":"top","labels":false,"title":null,"values":[1250,1300,1350,1400,1450,1500,1550,1600]}},
"y":{"field":"p","type":"quantitative","scale":{"domain":[0,0.5],"nice":false},"axis":{"orient":"right","labels":false,"title":null,"values":[0,0.1,0.2,0.3,0.4,0.5]}}}},
{"data":{"values":[{}]},"mark":{"type":"text","text":"midwave","font":"Liberation Sans","fontSize":34,"fontWeight":"bold","color":"#8f8f8f","align":"left","baseline":"alphabetic"},
"encoding":{"x":{"datum":1233.8,"type":"quantitative","scale":{"domain":[1210.7,1629.6],"nice":false,"zero":false},"axis":null},"y":{"datum":0.41,"type":"quantitative","scale":{"domain":[0,0.5],"nice":false},"axis":null}}},
{"data":{"values":[{}]},"mark":{"type":"rule","color":"#888","strokeWidth":1},
"encoding":{"x":{"datum":1624.7,"type":"quantitative","scale":{"domain":[1210.7,1629.6],"nice":false,"zero":false},"axis":null},"y":{"datum":0.42,"type":"quantitative","scale":{"domain":[0,0.5],"nice":false},"axis":null},"y2":{"datum":0.49}}}
],
"resolve":{"axis":{"x":"independent","y":"independent"}}},
{"width":628,"height":104,
"layer":[
{"data":{"values":[{}]},"mark":{"type":"rule","color":"#444","strokeWidth":1},"encoding":{"y":{"datum":0,"type":"quantitative","scale":{"domain":[-0.1,0.1],"nice":false},"axis":null}}},
{"data":{"name":"mw"},"transform":[{"filter":"isValid(datum.d)"}],"mark":{"type":"point","shape":"M-1,0H1M0,-1V1","filled":false,"color":"#ff2a10","strokeWidth":1,"size":36,"opacity":0.85},
"encoding":{"x":{"field":"w","type":"quantitative","scale":{"domain":[1210.7,1629.6],"nice":false,"zero":false},"axis":{"orient":"bottom","title":null,"format":"d","labelPadding":10,"values":[1250,1300,1350,1400,1450,1500,1550,1600]}},
"y":{"field":"d","type":"quantitative","scale":{"domain":[-0.1,0.1],"nice":false},"axis":{"orient":"left","title":"NeDT Diff (K)","format":"~g","values":[-0.1,0,0.1]}}}},
{"data":{"values":[{"w":1300,"d":0}]},"mark":{"type":"point","opacity":0},
"encoding":{"x":{"field":"w","type":"quantitative","scale":{"domain":[1210.7,1629.6],"nice":false,"zero":false},"axis":{"orient":"top","labels":false,"title":null,"values":[1250,1300,1350,1400,1450,1500,1550,1600]}},
"y":{"field":"d","type":"quantitative","scale":{"domain":[-0.1,0.1],"nice":false},"axis":{"orient":"right","labels":false,"title":null,"values":[-0.1,0,0.1]}}}}
],
"resolve":{"axis":{"x":"independent","y":"independent"}}}
]},
{"spacing":5,"vconcat":[
{"width":628,"height":243,
"layer":[
{"data":{"name":"sw"},"transform":[{"filter":"isValid(datum.s)"}],"mark":{"type":"point","shape":"cross","filled":true,"color":"#000","size":25,"opacity":1},
"encoding":{"x":{"field":"w","type":"quantitative","scale":{"domain":[2175,2682],"nice":false,"zero":false},"axis":{"orient":"bottom","labels":false,"title":null,"values":[2200,2250,2300,2350,2400,2450,2500,2550,2600,2650]}},
"y":{"field":"s","type":"quantitative","scale":{"domain":[0,0.5],"nice":false},"axis":{"orient":"left","title":"NeDT (K)","format":"~g","values":[0,0.1,0.2,0.3,0.4,0.5]}}}},
{"data":{"name":"sw"},"transform":[{"filter":"isValid(datum.p)"}],"mark":{"type":"point","shape":"M-1,0H1M0,-1V1","filled":false,"color":"#ff2a10","strokeWidth":1,"size":36,"opacity":0.85},
"encoding":{"x":{"field":"w","type":"quantitative","scale":{"domain":[2175,2682],"nice":false,"zero":false},"axis":{"orient":"top","labels":false,"title":null,"values":[2200,2250,2300,2350,2400,2450,2500,2550,2600,2650]}},
"y":{"field":"p","type":"quantitative","scale":{"domain":[0,0.5],"nice":false},"axis":{"orient":"right","labels":false,"title":null,"values":[0,0.1,0.2,0.3,0.4,0.5]}}}},
{"data":{"values":[{}]},"mark":{"type":"text","text":"shortwave","font":"Liberation Sans","fontSize":34,"fontWeight":"bold","color":"#8f8f8f","align":"left","baseline":"alphabetic"},
"encoding":{"x":{"datum":2197.3,"type":"quantitative","scale":{"domain":[2175,2682],"nice":false,"zero":false},"axis":null},"y":{"datum":0.41,"type":"quantitative","scale":{"domain":[0,0.5],"nice":false},"axis":null}}}
],
"resolve":{"axis":{"x":"independent","y":"independent"}}},
{"width":628,"height":104,
"layer":[
{"data":{"values":[{}]},"mark":{"type":"rule","color":"#444","strokeWidth":1},"encoding":{"y":{"datum":0,"type":"quantitative","scale":{"domain":[-0.1,0.1],"nice":false},"axis":null}}},
{"data":{"name":"sw"},"transform":[{"filter":"isValid(datum.d)"}],"mark":{"type":"point","shape":"M-1,0H1M0,-1V1","filled":false,"color":"#ff2a10","strokeWidth":1,"size":36,"opacity":0.85},
"encoding":{"x":{"field":"w","type":"quantitative","scale":{"domain":[2175,2682],"nice":false,"zero":false},"axis":{"orient":"bottom","title":"wavenumber","titleFontSize":17,"titleColor":"#444","titlePadding":0,"format":"d","labelPadding":10,"values":[2200,2250,2300,2350,2400,2450,2500,2550,2600,2650]}},
"y":{"field":"d","type":"quantitative","scale":{"domain":[-0.1,0.1],"nice":false},"axis":{"orient":"left","title":"NeDT Diff (K)","format":"~g","values":[-0.1,0,0.1]}}}},
{"data":{"values":[{"w":2300,"d":0}]},"mark":{"type":"point","opacity":0},
"encoding":{"x":{"field":"w","type":"quantitative","scale":{"domain":[2175,2682],"nice":false,"zero":false},"axis":{"orient":"top","labels":false,"title":null,"values":[2200,2250,2300,2350,2400,2450,2500,2550,2600,2650]}},
"y":{"field":"d","type":"quantitative","scale":{"domain":[-0.1,0.1],"nice":false},"axis":{"orient":"right","labels":false,"title":null,"values":[-0.1,0,0.1]}}}}
],
"resolve":{"axis":{"x":"independent","y":"independent"}}}
]}
]
}
